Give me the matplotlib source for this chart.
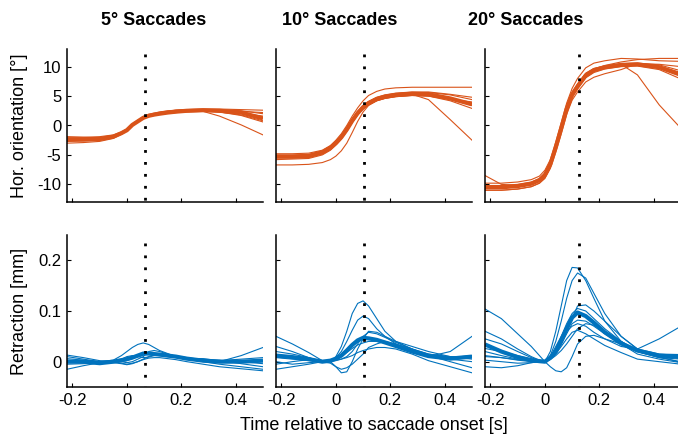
import matplotlib.pyplot as plt
import numpy as np

plt.rcParams['font.family'] = ['Liberation Sans', 'DejaVu Sans']
plt.rcParams['axes.unicode_minus'] = False

# sample times [s] shared by every trace
t = [-0.22, -0.16, -0.10, -0.05, -0.02, 0.0, 0.02, 0.04, 0.06, 0.08,
     0.10, 0.12, 0.15, 0.18, 0.22, 0.28, 0.34, 0.42, 0.50]

titles = ['5° Saccades', '10° Saccades', '20° Saccades']
onset_marks = [0.065, 0.105, 0.125]

# horizontal eye orientation [deg], single trials + mean
orient_5 = [
    [-2.0, -2.0, -1.9, -1.6, -1.1, -0.6, 0.2, 0.9, 1.5, 1.9, 2.1, 2.3, 2.5, 2.6, 2.7, 2.8, 2.8, 2.7, 2.6],
    [-3.0, -2.9, -2.7, -2.2, -1.5, -0.9, 0.0, 0.6, 1.2, 1.5, 1.7, 1.9, 2.1, 2.2, 2.4, 2.5, 2.3, 1.8, 0.8],
    [-2.6, -2.5, -2.4, -2.0, -1.4, -0.9, 0.0, 0.7, 1.3, 1.7, 1.9, 2.1, 2.3, 2.4, 2.5, 2.4, 1.6, 0.1, -1.6],
    [-2.7, -2.6, -2.5, -2.1, -1.4, -0.9, 0.0, 0.6, 1.2, 1.6, 1.8, 1.9, 2.1, 2.3, 2.4, 2.5, 2.4, 2.1, 1.6],
    [-2.2, -2.2, -2.1, -1.7, -1.2, -0.7, 0.2, 0.8, 1.4, 1.8, 2.0, 2.2, 2.4, 2.6, 2.7, 2.7, 2.6, 2.4, 2.2],
    [-2.5, -2.4, -2.3, -1.9, -1.3, -0.8, 0.1, 0.7, 1.3, 1.6, 1.8, 1.9, 2.1, 2.2, 2.3, 2.4, 2.3, 1.7, 0.6],
    [-1.9, -2.0, -2.1, -1.8, -1.3, -0.8, 0.1, 0.7, 1.3, 1.7, 1.9, 2.1, 2.3, 2.5, 2.6, 2.7, 2.7, 2.5, 2.0],
]
orient_5_mean = [-2.4, -2.4, -2.3, -1.9, -1.3, -0.8, 0.1, 0.7, 1.3, 1.65, 1.85, 2.0, 2.2, 2.35, 2.5, 2.6, 2.5, 2.2, 1.2]

orient_10 = [
    [-6.7, -6.7, -6.6, -6.3, -5.8, -5.2, -4.3, -3.0, -1.2, 0.7, 2.3, 3.4, 4.2, 4.6, 4.9, 5.1, 5.0, 4.5, 4.0],
    [-4.8, -4.8, -4.7, -4.2, -3.4, -2.5, -1.4, 0.0, 1.6, 3.0, 4.2, 5.1, 5.8, 6.2, 6.4, 6.5, 6.5, 6.5, 6.5],
    [-5.4, -5.4, -5.3, -4.7, -3.9, -3.1, -2.1, -0.8, 0.7, 2.0, 3.0, 3.7, 4.4, 4.8, 5.1, 5.3, 4.4, 1.0, -2.5],
    [-5.0, -5.0, -4.9, -4.3, -3.5, -2.7, -1.7, -0.4, 1.1, 2.4, 3.4, 4.1, 4.8, 5.2, 5.5, 5.7, 5.7, 5.3, 4.8],
    [-5.8, -5.7, -5.6, -5.0, -4.2, -3.3, -2.3, -1.0, 0.5, 1.8, 2.8, 3.5, 4.2, 4.6, 4.9, 5.1, 5.0, 4.2, 2.9],
    [-5.1, -5.2, -5.1, -4.5, -3.6, -2.8, -1.8, -0.5, 1.0, 2.3, 3.3, 4.0, 4.7, 5.1, 5.4, 5.6, 5.6, 5.2, 4.4],
    [-5.5, -5.5, -5.4, -4.8, -4.0, -3.2, -2.2, -0.9, 0.6, 1.9, 2.9, 3.6, 4.3, 4.7, 5.0, 5.2, 5.1, 4.6, 3.4],
]
orient_10_mean = [-5.3, -5.3, -5.2, -4.6, -3.8, -3.0, -2.0, -0.7, 0.8, 2.1, 3.1, 3.8, 4.5, 4.9, 5.2, 5.4, 5.3, 4.6, 3.6]

orient_20 = [
    [-8.5, -10.0, -10.2, -9.8, -9.2, -8.3, -6.5, -3.6, -0.4, 2.9, 5.3, 6.8, 8.7, 9.6, 10.0, 10.4, 10.5, 10.1, 9.0],
    [-10.6, -10.6, -10.4, -10.0, -9.4, -8.5, -6.7, -3.8, -0.6, 2.7, 5.1, 6.5, 8.4, 9.3, 9.9, 10.4, 8.6, 3.5, -0.5],
    [-9.8, -9.8, -9.6, -9.2, -8.6, -7.6, -5.8, -2.8, 0.5, 3.8, 6.3, 8.0, 9.8, 10.6, 11.0, 11.4, 11.3, 11.0, 10.9],
    [-11.0, -11.0, -10.8, -10.4, -9.8, -9.0, -7.3, -4.5, -1.4, 1.9, 4.3, 5.7, 7.4, 8.2, 8.8, 9.5, 10.5, 10.4, 10.0],
    [-10.2, -10.2, -10.0, -9.6, -9.0, -8.1, -6.2, -3.2, 0.0, 3.3, 5.7, 7.1, 8.9, 9.7, 10.1, 10.5, 10.6, 10.3, 9.3],
    [-11.0, -11.0, -10.8, -10.4, -9.8, -8.9, -7.0, -4.1, -0.9, 2.4, 4.8, 6.3, 8.1, 9.0, 9.6, 10.0, 10.1, 9.5, 7.9],
    [-10.3, -10.4, -10.2, -9.8, -9.2, -8.3, -6.5, -3.5, -0.3, 3.0, 5.4, 6.9, 8.8, 9.6, 10.2, 10.8, 11.2, 11.4, 11.4],
]
orient_20_mean = [-10.5, -10.5, -10.3, -9.9, -9.3, -8.4, -6.6, -3.7, -0.5, 2.8, 5.2, 6.6, 8.5, 9.4, 9.9, 10.3, 10.4, 9.9, 8.6]

# eyeball retraction [mm], single trials + mean
retract_5 = [
    [0.010, 0.005, 0.000, 0.003, 0.012, 0.020, 0.028, 0.034, 0.037, 0.034, 0.028, 0.022, 0.016, 0.010, 0.005, 0.000, -0.005, -0.010, -0.015],
    [0.013, 0.008, 0.002, 0.000, 0.000, 0.002, 0.006, 0.010, 0.013, 0.015, 0.016, 0.016, 0.014, 0.011, 0.008, 0.004, 0.000, 0.012, 0.028],
    [-0.015, -0.008, -0.002, 0.000, -0.003, -0.005, -0.003, 0.000, 0.004, 0.007, 0.008, 0.008, 0.006, 0.004, 0.000, -0.005, -0.010, -0.014, -0.018],
    [0.006, 0.003, 0.000, 0.002, 0.000, -0.002, 0.000, 0.005, 0.010, 0.020, 0.022, 0.020, 0.015, 0.010, 0.006, 0.006, 0.002, 0.005, 0.008],
    [-0.005, -0.004, -0.002, 0.001, 0.005, 0.010, 0.012, 0.010, 0.008, 0.009, 0.012, 0.014, 0.013, 0.010, 0.007, 0.003, 0.003, -0.004, -0.010],
    [0.003, 0.000, -0.003, -0.002, -0.004, -0.006, -0.004, 0.000, 0.005, 0.010, 0.013, 0.012, 0.010, 0.008, 0.006, 0.004, 0.000, 0.000, -0.004],
]
retract_5_mean = [0.0, 0.0, -0.003, 0.0, 0.003, 0.005, 0.008, 0.012, 0.016, 0.016, 0.015, 0.014, 0.012, 0.010, 0.006, 0.002, 0.0, 0.0, 0.002]

retract_10 = [
    [0.050, 0.035, 0.018, 0.002, 0.000, 0.010, 0.030, 0.060, 0.095, 0.115, 0.120, 0.110, 0.085, 0.060, 0.040, 0.025, 0.015, 0.010, 0.005],
    [0.020, 0.015, 0.008, 0.000, 0.002, 0.008, 0.020, 0.040, 0.062, 0.082, 0.090, 0.085, 0.065, 0.050, 0.035, 0.022, 0.012, 0.005, 0.000],
    [0.000, -0.005, -0.002, 0.000, 0.000, -0.010, -0.022, -0.020, 0.000, 0.025, 0.045, 0.060, 0.058, 0.050, 0.040, 0.030, 0.020, 0.010, 0.008],
    [0.008, 0.005, 0.002, 0.000, 0.000, 0.004, 0.010, 0.018, 0.026, 0.033, 0.037, 0.040, 0.040, 0.037, 0.032, 0.022, 0.010, 0.020, 0.050],
    [-0.015, -0.010, -0.005, 0.000, 0.001, 0.003, 0.005, 0.008, 0.012, 0.018, 0.022, 0.025, 0.028, 0.028, 0.025, 0.015, 0.002, -0.010, -0.022],
    [0.030, 0.020, 0.008, 0.000, 0.000, 0.002, 0.005, 0.010, 0.020, 0.035, 0.050, 0.058, 0.055, 0.048, 0.038, 0.025, 0.012, 0.000, -0.012],
    [-0.005, 0.000, 0.004, 0.000, -0.003, -0.010, -0.015, -0.012, -0.005, 0.005, 0.015, 0.028, 0.035, 0.040, 0.035, 0.025, 0.015, 0.008, 0.012],
]
retract_10_mean = [0.012, 0.009, 0.005, 0.0, 0.002, 0.006, 0.012, 0.022, 0.033, 0.042, 0.047, 0.046, 0.043, 0.038, 0.031, 0.020, 0.011, 0.006, 0.010]

retract_20 = [
    [0.020, 0.012, 0.005, 0.001, 0.000, 0.000, 0.020, 0.060, 0.110, 0.160, 0.186, 0.185, 0.160, 0.125, 0.080, 0.040, 0.020, 0.008, 0.005],
    [0.012, 0.008, 0.003, 0.000, 0.000, 0.000, 0.012, 0.040, 0.080, 0.125, 0.160, 0.175, 0.165, 0.135, 0.095, 0.050, 0.025, 0.010, 0.006],
    [0.104, 0.085, 0.055, 0.030, 0.012, 0.000, 0.010, 0.030, 0.050, 0.070, 0.085, 0.110, 0.112, 0.100, 0.080, 0.050, 0.025, 0.015, 0.012],
    [0.010, 0.008, 0.004, 0.002, 0.001, 0.000, -0.010, -0.018, -0.020, -0.012, 0.010, 0.035, 0.050, 0.052, 0.045, 0.035, 0.022, 0.012, 0.008],
    [0.060, 0.045, 0.025, 0.010, 0.003, 0.000, 0.010, 0.025, 0.045, 0.060, 0.070, 0.075, 0.070, 0.058, 0.045, 0.030, 0.025, 0.045, 0.070],
    [-0.010, -0.012, -0.008, -0.002, 0.000, 0.000, 0.005, 0.015, 0.030, 0.045, 0.058, 0.062, 0.055, 0.045, 0.032, 0.018, 0.005, 0.000, -0.005],
    [0.045, 0.035, 0.020, 0.008, 0.002, 0.000, 0.008, 0.025, 0.050, 0.075, 0.095, 0.105, 0.100, 0.085, 0.065, 0.040, 0.020, 0.008, 0.000],
    [0.003, 0.000, -0.003, -0.002, 0.000, 0.000, 0.004, 0.012, 0.022, 0.035, 0.050, 0.065, 0.075, 0.072, 0.060, 0.040, 0.022, 0.010, -0.002],
    [0.026, 0.020, 0.012, 0.005, 0.001, 0.000, 0.006, 0.020, 0.035, 0.055, 0.075, 0.082, 0.080, 0.070, 0.055, 0.035, 0.015, 0.005, -0.002],
]
retract_20_mean = [0.034, 0.020, 0.009, 0.003, 0.001, 0.0, 0.008, 0.020, 0.040, 0.065, 0.087, 0.097, 0.090, 0.077, 0.058, 0.036, 0.022, 0.012, 0.011]

orient_trials = [orient_5, orient_10, orient_20]
orient_means = [orient_5_mean, orient_10_mean, orient_20_mean]
retract_trials = [retract_5, retract_10, retract_20]
retract_means = [retract_5_mean, retract_10_mean, retract_20_mean]

xticks = [-0.2, 0, 0.2, 0.4]
xticklabels = ['-0.2', '0', '0.2', '0.4']
orient_ticks = [-10, -5, 0, 5, 10]
retract_ticks = [0, 0.1, 0.2]

ORANGE = '#D95319'
BLUE = '#0072BD'

fig = plt.figure(figsize=(6.78, 4.4), dpi=100)
W, H = 678.0, 440.0
lefts = [67, 276, 485]
pw = 196


def style_axis(ax):
    for s in ['top', 'right']:
        ax.spines[s].set_visible(False)
    for s in ['left', 'bottom']:
        ax.spines[s].set_linewidth(1.1)
    ax.tick_params(direction='in', length=3, width=0.8, labelsize=12, pad=4)
    ax.set_xlim(-0.22, 0.5)
    ax.set_xticks(xticks)


for i in range(3):
    # top row: orientation
    ax = fig.add_axes([lefts[i] / W, (H - 202) / H, pw / W, 153 / H])
    style_axis(ax)
    for tr in orient_trials[i]:
        ax.plot(t, tr, color=ORANGE, lw=0.8)
    ax.plot(t, orient_means[i], color=ORANGE, lw=3.0, solid_capstyle='butt')
    # dotted onset marker, drawn top-down so the first dot sits at the top
    ax.plot([onset_marks[i]] * 2, [12.2, -13], color='black', lw=2.0,
            linestyle=(0, (1, 3.3)))
    ax.set_ylim(-13, 13)
    ax.set_yticks(orient_ticks)
    ax.set_xticklabels([])
    if i == 0:
        ax.set_yticklabels([str(v) for v in orient_ticks])
        ax.set_ylabel('Hor. orientation [°]', fontsize=13)
        ax.yaxis.set_label_coords(-0.2, 0.5)
    else:
        ax.set_yticklabels([])

    # bottom row: retraction
    ax2 = fig.add_axes([lefts[i] / W, (H - 387) / H, pw / W, 152 / H])
    style_axis(ax2)
    for tr in retract_trials[i]:
        ax2.plot(t, tr, color=BLUE, lw=0.8)
    ax2.plot(t, retract_means[i], color=BLUE, lw=3.0, solid_capstyle='butt')
    ax2.plot([onset_marks[i]] * 2, [0.235, -0.05], color='black', lw=2.0,
             linestyle=(0, (1, 3.3)))
    ax2.set_ylim(-0.05, 0.25)
    ax2.set_yticks(retract_ticks)
    ax2.set_xticklabels(xticklabels)
    if i == 0:
        ax2.set_yticklabels(['0', '0.1', '0.2'])
        ax2.set_ylabel('Retraction [mm]', fontsize=13)
        ax2.yaxis.set_label_coords(-0.2, 0.5)
    else:
        ax2.set_yticklabels([])

title_x = [154, 340, 526]
for i in range(3):
    fig.text(title_x[i] / W, 1 - 20.5 / H, titles[i], fontsize=13,
             fontweight='bold', ha='center', va='center')

fig.text(374 / W, 1 - 425 / H, 'Time relative to saccade onset [s]',
         fontsize=13, ha='center', va='center')

fig.savefig('out.png', dpi=100)
